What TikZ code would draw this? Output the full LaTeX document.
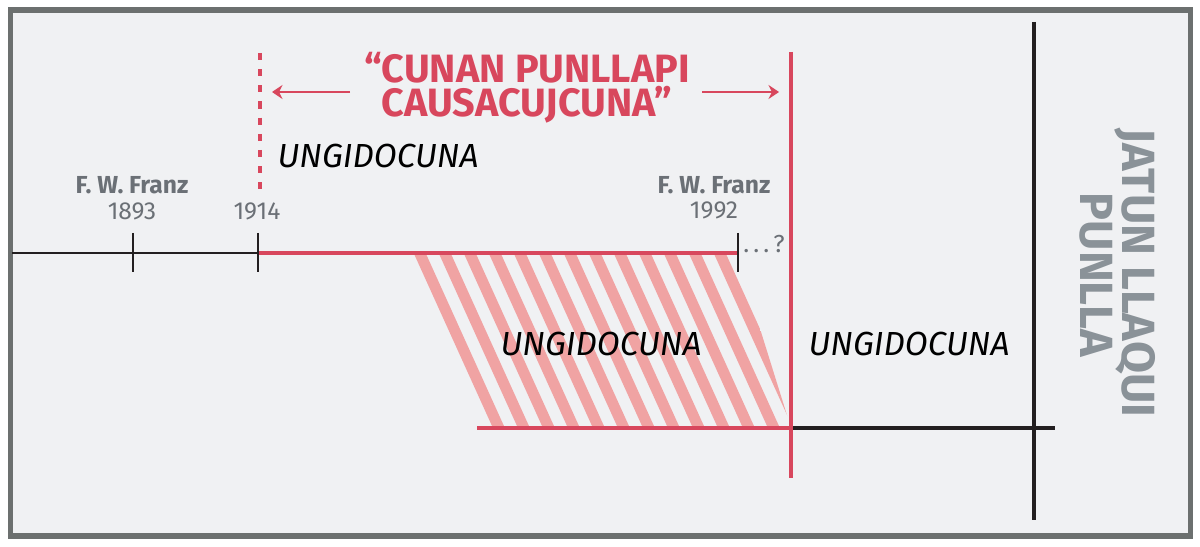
\documentclass[tikz,border=0pt]{standalone}
\usepackage{fontspec}
\setmainfont{Fira Sans}
\usetikzlibrary{arrows.meta,positioning,calc}
\definecolor{framegray}{HTML}{6C706F}
\definecolor{panelgray}{HTML}{F0F1F3}
\definecolor{linered}{HTML}{D8475D}
\definecolor{stripepink}{HTML}{F0A3A3}
\definecolor{lineblack}{HTML}{231F20}
\definecolor{labelgray}{HTML}{6B7076}
\definecolor{sidegray}{HTML}{8A9298}

\begin{document}
\begin{tikzpicture}[
  x=0.02cm, y=-0.02cm,
  >=Stealth,
  redline/.style={draw=linered, line width=2.5pt},
  blackline/.style={draw=lineblack, line width=1.6pt},
  tickmark/.style={draw=lineblack, line width=1.4pt},
  dashline/.style={draw=linered, line width=2.4pt, dash pattern=on 4pt off 5.2pt},
  spanarrow/.style={draw=linered, line width=1.1pt, arrows={-Stealth[length=6pt, width=8pt]}},
  stripe/.style={draw=stripepink, line width=6.2pt},
  titletext/.style={align=center, text=linered, font=\fontsize{22.5}{19.2}\selectfont\bfseries, inner sep=0pt},
  anointed/.style={anchor=base, font=\fontsize{19}{19}\selectfont\itshape, inner sep=0pt},
  namelabel/.style={anchor=base, text=labelgray, font=\fontsize{14}{14}\selectfont\bfseries, inner sep=0pt},
  yearlabel/.style={anchor=base, text=labelgray, font=\fontsize{14}{14}\selectfont, inner sep=0pt},
  sidetext/.style={anchor=base, rotate=-90, text=sidegray, font=\fontsize{26.5}{26.5}\selectfont\bfseries, inner sep=0pt}
]
  \useasboundingbox (0,0) rectangle (1200,547);
  \draw[draw=framegray, fill=panelgray, line width=3.1pt] (10.5,10) rectangle (1190.5,536);

  % hatched band
  \begin{scope}
    \clip (410,255) -- (737,255) -- (791,428) -- (487,428) -- cycle;
    \foreach \k in {-4,...,14}
      \draw[stripe] ({416+25*\k},245) -- ({416+25*\k+0.453*195},440);
  \end{scope}

  % points on the lines
  \coordinate (left end) at (12,253);
  \coordinate (y1893) at (133,253);
  \coordinate (y1914) at (258,253);
  \coordinate (y1992) at (738,253);
  \coordinate (low start) at (477,428);
  \coordinate (low cross) at (791,428);
  \coordinate (low end) at (1055,428);
  \coordinate (red top) at (791,52);
  \coordinate (red bottom) at (791,478);
  \coordinate (black top) at (1034,22);
  \coordinate (black bottom) at (1034,520);
  \coordinate (dash top) at (260,53);
  \coordinate (dash bottom) at (260,192);

  \draw[blackline] (left end) -- (y1914);
  \draw[redline] (y1914) -- (y1992);
  \draw[redline] (low start) -- (low cross);
  \draw[blackline, line width=1.8pt] (low cross) -- (low end);
  \draw[blackline, line width=1.9pt] (black top) -- (black bottom);
  \draw[redline] (red top) -- (red bottom);
  \draw[dashline] (dash top) -- (dash bottom);

  \foreach \t in {y1893,y1914,y1992}
    \draw[tickmark] ($(\t)+(0,-20)$) -- ($(\t)+(0,19)$);

  \node[titletext] (title) at (527,88) {“CUNAN PUNLLAPI\\CAUSACUJCUNA”};
  \coordinate (arrow l) at (350,92);
  \coordinate (arrow r) at (702,92);
  \draw[spanarrow] (arrow l) -- ($(dash top |- arrow l)+(12,0)$);
  \draw[spanarrow] (arrow r) -- ($(red top |- arrow r)+(-12,0)$);

  \node[anointed] (anointed1) at (378,168) {UNGIDOCUNA};
  \node[anointed] (anointed2) at (601,355) {UNGIDOCUNA};
  \node[anointed] (anointed3) at (909,355) {UNGIDOCUNA};

  \node[namelabel] (franz1) at (132,194) {F. W. Franz};
  \node[yearlabel] (year1893) at (132,220) {1893};
  \node[yearlabel] (year1914) at (257,220) {1914};
  \node[namelabel] (franz2) at (714,194) {F. W. Franz};
  \node[yearlabel] (year1992) at (714,219) {1992};
  \node[yearlabel, anchor=base west] (unknown) at (743,253) {.\,.\,.\,?};

  \node[sidetext] (side1) at (1122,273) {JATUN LLAQUI};
  \node[sidetext] (side2) at (1080,275) {PUNLLA};
\end{tikzpicture}
\end{document}
